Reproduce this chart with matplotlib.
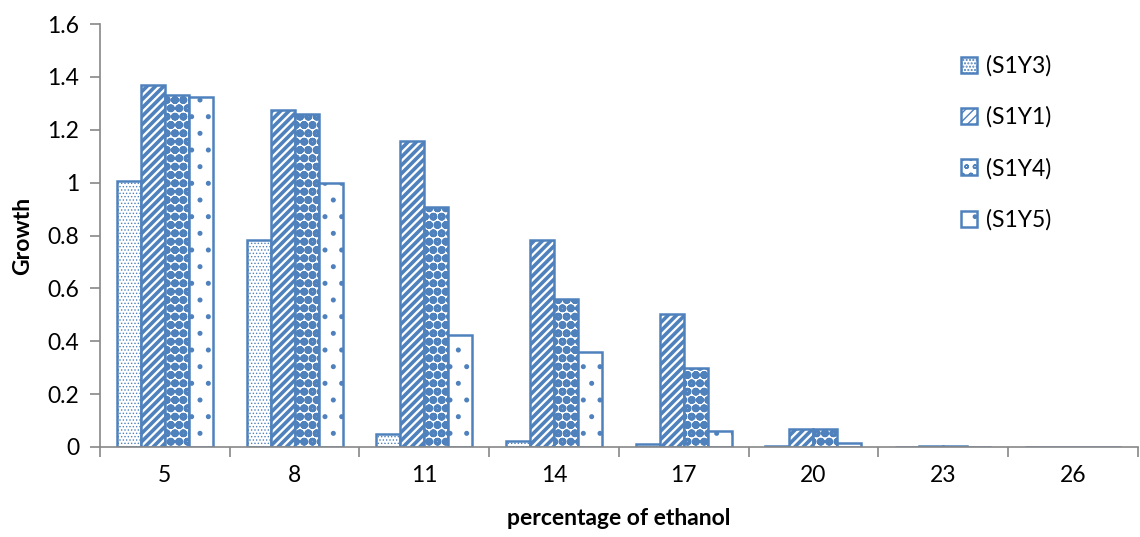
import numpy as np
import matplotlib
matplotlib.use("Agg")
from matplotlib import pyplot as plt

plt.rcParams['font.family'] = ['Lato', 'DejaVu Sans']

# data
categories = ['5', '8', '11', '14', '17', '20', '23', '26']
series_names = ['(S1Y3)', '(S1Y1)', '(S1Y4)', '(S1Y5)']
s1y3 = [1.006, 0.783, 0.049, 0.023, 0.010, 0.002, 0.0, 0.0]
s1y1 = [1.369, 1.274, 1.157, 0.783, 0.503, 0.069, 0.003, 0.0]
s1y4 = [1.331, 1.259, 0.908, 0.560, 0.299, 0.068, 0.002, 0.0]
s1y5 = [1.322, 0.998, 0.424, 0.359, 0.062, 0.014, 0.0, 0.0]

blue = '#4F81BD'
hatches = ['.....', '////', 'oo', '.']
hatch_lw = [0.6, 2.6, 3.2, 1.2]

fig = plt.figure(figsize=(11.4, 5.37), dpi=100)
ax = fig.add_axes([0.0877, 0.1676, 0.9103, 0.7877])

x = np.arange(len(categories))
w = 0.185
for k, (name, vals) in enumerate(zip(series_names, [s1y3, s1y1, s1y4, s1y5])):
    with plt.rc_context({'hatch.linewidth': hatch_lw[k]}):
        ax.bar(x + (k - 1.5) * w, vals, width=w, facecolor='white',
               edgecolor=blue, hatch=hatches[k], linewidth=1.8, label=name)

ax.set_xlim(-0.5, len(categories) - 0.5)
ax.set_ylim(0, 1.6)
ax.set_yticks(np.arange(0, 1.61, 0.2))
ax.set_yticklabels(['0', '0.2', '0.4', '0.6', '0.8', '1', '1.2', '1.4', '1.6'])

# category boundary ticks, labels in between
ax.set_xticks(np.arange(-0.5, len(categories), 1.0))
ax.set_xticklabels([])
ax.set_xticks(x, minor=True)
ax.set_xticklabels(categories, minor=True)
ax.tick_params(axis='x', which='minor', length=0, pad=13, labelsize=16.5)
ax.tick_params(axis='x', which='major', length=7, width=1.2, color='#888888')
ax.tick_params(axis='y', length=7, width=1.2, color='#888888', labelsize=16.5, pad=8)

for s in ['top', 'right']:
    ax.spines[s].set_visible(False)
for s in ['left', 'bottom']:
    ax.spines[s].set_color('#888888')
    ax.spines[s].set_linewidth(1.2)

ax.set_ylabel('Growth', fontsize=16.5, fontweight='bold', labelpad=10)
ax.set_xlabel('percentage of ethanol', fontsize=16.5, fontweight='bold', labelpad=16)

ax.legend(loc='upper left', bbox_to_anchor=(0.81, 0.975), frameon=False,
          fontsize=16.5, handlelength=0.7, handleheight=0.7, handletextpad=0.4,
          labelspacing=1.3)

fig.savefig('out.png', dpi=100)
